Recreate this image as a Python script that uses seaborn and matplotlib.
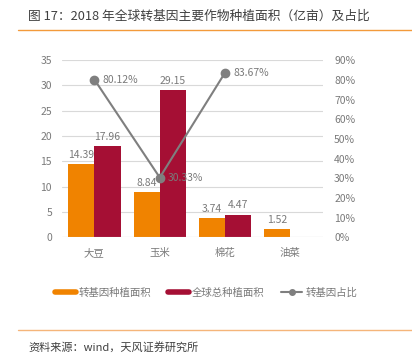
import matplotlib
matplotlib.use("Agg")
import matplotlib.pyplot as plt
import seaborn as sns
import pandas as pd
import numpy as np

categories = ["大豆", "玉米", "棉花", "油菜"]
gm_area = [14.39, 8.84, 3.74, 1.52]
total_area = [17.96, 29.15, 4.47, np.nan]
gm_share = [80.12, 30.33, 83.67, np.nan]
series_names = ["转基因种植面积", "全球总种植面积", "转基因占比"]
left_ticks = [0, 5, 10, 15, 20, 25, 30, 35]
right_ticks = [0, 10, 20, 30, 40, 50, 60, 70, 80, 90]

sns.set_theme(style="white")
plt.rcParams['font.family'] = ['Noto Sans CJK SC', 'DejaVu Sans']

orange = "#F08300"
crimson = "#A50F34"
grey = "#7F7F7F"
tick_c = "#7A7A7A"

df = pd.DataFrame({
    "cat": categories * 2,
    "val": gm_area + total_area,
    "series": [series_names[0]] * 4 + [series_names[1]] * 4,
})

fig = plt.figure(figsize=(4.12, 3.54), dpi=100)
ax = fig.add_axes([0.150, 0.330, 0.634, 0.500])
sns.barplot(data=df, x="cat", y="val", hue="series", palette=[orange, crimson],
            width=0.8, ax=ax, legend=False, saturation=1, linewidth=0)
ax.set_ylim(0, 35)
ax.set_yticks(left_ticks)
ax.set_xlim(-0.5, 3.5)
ax.set_xlabel("")
ax.set_ylabel("")
ax.grid(axis="y", color="#D9D9D9", linewidth=0.8)
ax.set_axisbelow(True)
for s in ax.spines.values():
    s.set_visible(False)
ax.axhline(0, color="#D9D9D9", linewidth=0.8)
ax.tick_params(axis="both", length=0, labelsize=7.5, colors=tick_c, pad=7)
ax.tick_params(axis="x", pad=8)

for cont in ax.containers:
    labels = [f"{v:.2f}" if not np.isnan(v) else "" for v in cont.datavalues]
    ax.bar_label(cont, labels=labels, padding=3, fontsize=7.5, color=tick_c)

ax2 = ax.twinx()
xs = np.arange(len(categories))
ax2.plot(xs, gm_share, color=grey, linewidth=1.5, marker="o", markersize=6)
for x, v in zip(xs, gm_share):
    if not np.isnan(v):
        ax2.annotate(f"{v:.2f}%", (x, v), xytext=(6, 0), textcoords="offset points",
                     va="center", ha="left", fontsize=7.5, color=tick_c)
ax2.set_ylim(0, 90)
ax2.set_yticks(right_ticks)
ax2.set_yticklabels([f"{t}%" for t in right_ticks])
ax2.grid(False)
for s in ax2.spines.values():
    s.set_visible(False)
ax2.tick_params(axis="y", length=0, labelsize=7.5, colors=tick_c, pad=8)

from matplotlib.lines import Line2D
handles = [Line2D([0], [0], color=orange, linewidth=4),
           Line2D([0], [0], color=crimson, linewidth=4),
           Line2D([0], [0], color=grey, linewidth=1.5, marker="o", markersize=4)]
fig.legend(handles, series_names, loc="center", bbox_to_anchor=(0.5, 1 - 293 / 354),
           ncol=3, frameon=False, fontsize=7.5, labelcolor=tick_c,
           handlelength=2.0, handletextpad=0.3, columnspacing=1.6)

fig.text(28 / 412, 1 - 16 / 354, "图 17：2018 年全球转基因主要作物种植面积（亿亩）及占比",
         fontsize=9.2, color="#404040", va="center", ha="left")
fig.add_artist(Line2D([18 / 412, 1.0], [1 - 30 / 354] * 2, color="#F39A3B", linewidth=1))
fig.add_artist(Line2D([18 / 412, 1.0], [1 - 330 / 354] * 2, color="#F5B57A", linewidth=1))
fig.text(28 / 412, 1 - 347 / 354, "资料来源：wind，天风证券研究所",
         fontsize=8, color="#404040", va="center", ha="left")

fig.savefig("out.png", dpi=100)
